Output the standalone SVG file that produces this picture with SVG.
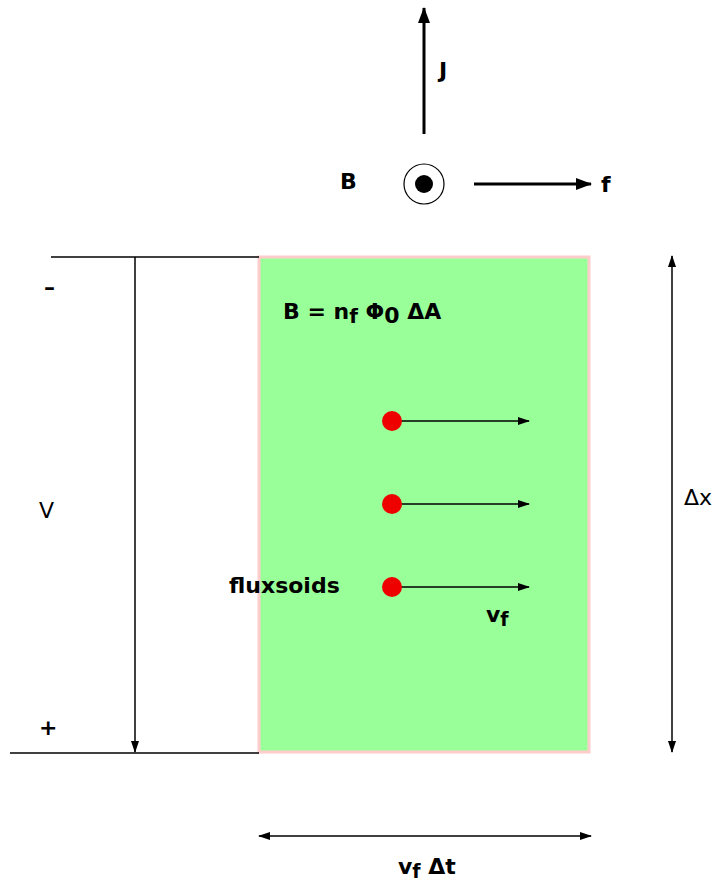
<svg xmlns="http://www.w3.org/2000/svg" width="716" height="883" viewBox="0 0 716 883">
<style>
.t{font-family:"DejaVu Sans",Verdana,sans-serif;font-weight:bold;font-size:22px;fill:#000}
.r{font-family:"DejaVu Sans",Verdana,sans-serif;font-size:22px;fill:#000}
.ln{stroke:#000;stroke-width:1.5;fill:none}
.thk{stroke:#000;stroke-width:3;fill:none}
</style>
<defs>
<marker id="ah" markerWidth="12" markerHeight="8" refX="11" refY="4" orient="auto-start-reverse" markerUnits="userSpaceOnUse">
<path d="M0,0 L12,4 L0,8 Z" fill="#000"/>
</marker>
<marker id="ahb" markerWidth="16" markerHeight="12" refX="15" refY="6" orient="auto" markerUnits="userSpaceOnUse">
<path d="M0,0 L16,6 L0,12 Z" fill="#000"/>
</marker>
</defs>
<rect width="716" height="883" fill="#fff"/>
<g id="region">
<rect x="259" y="257" width="330" height="495" fill="#99ff99" stroke="#ffcccc" stroke-width="3"/>
</g>
<g id="connectors">
<line class="ln" x1="51" y1="257" x2="259" y2="257" stroke="#444"/>
<line class="ln" x1="10" y1="753" x2="259" y2="753" stroke="#444"/>
<line class="ln" x1="135" y1="257" x2="135" y2="752" marker-end="url(#ah)"/>
<line class="thk" x1="424" y1="134" x2="424" y2="8" marker-end="url(#ahb)"/>
<line class="thk" x1="474" y1="184" x2="591" y2="184" marker-end="url(#ahb)"/>
<line class="ln" x1="400" y1="421" x2="529" y2="421" marker-end="url(#ah)"/>
<line class="ln" x1="400" y1="504" x2="529" y2="504" marker-end="url(#ah)"/>
<line class="ln" x1="400" y1="587" x2="529" y2="587" marker-end="url(#ah)"/>
<line class="ln" x1="672" y1="256" x2="672" y2="752" marker-start="url(#ah)" marker-end="url(#ah)"/>
<line class="ln" x1="259" y1="836" x2="591" y2="836" marker-start="url(#ah)" marker-end="url(#ah)"/>
</g>
<g id="bsymbol">
<circle cx="424" cy="184" r="20" fill="#fff" stroke="#000" stroke-width="1.2"/>
<circle cx="424" cy="184" r="9" fill="#000"/>
</g>
<g id="fluxsoids">
<circle cx="392" cy="421" r="10" fill="#ee0000"/>
<circle cx="392" cy="504" r="10" fill="#ee0000"/>
<circle cx="392" cy="587" r="10" fill="#ee0000"/>
</g>
<g id="labels">
<text class="t" x="439" y="78" font-size="23">J</text>
<text class="t" x="340" y="189" font-size="23">B</text>
<text class="t" x="601" y="192" font-size="23">f</text>
<text class="t" x="283" y="319" font-size="24">B = n<tspan font-size="20" dy="4">f</tspan><tspan dy="-4"> Φ</tspan><tspan dy="4">0</tspan><tspan dy="-4"> ΔA</tspan></text>
<text class="t" x="44" y="295">–</text>
<text class="r" x="39" y="518">V</text>
<text class="t" x="39" y="735">+</text>
<text class="t" x="229" y="593">fluxsoids</text>
<text class="t" x="486" y="622">v<tspan font-size="19" dy="4">f</tspan></text>
<text class="r" x="684" y="505" font-size="23">Δx</text>
<text class="t" x="398" y="874">v<tspan font-size="19" dy="4">f</tspan><tspan dy="-4"> Δt</tspan></text>
</g>
</svg>
